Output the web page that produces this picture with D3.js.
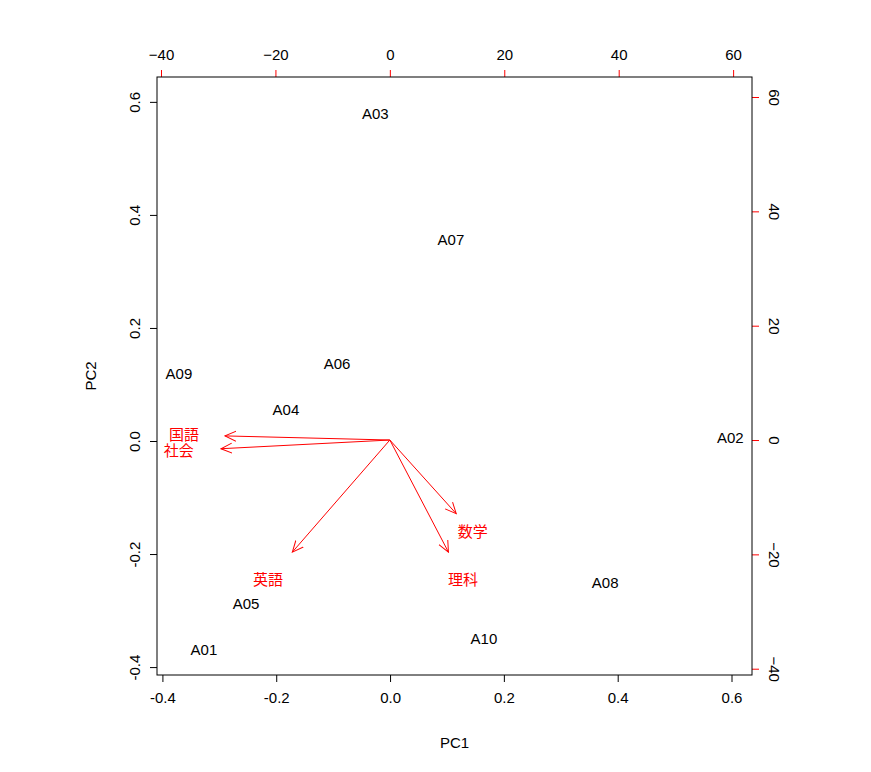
<!DOCTYPE html>
<html><head><meta charset="utf-8">
<script src="https://cdn.jsdelivr.net/npm/d3@7"></script>
<style>body{margin:0;background:#fff}text{font-family:"Liberation Sans","Noto Sans CJK JP",sans-serif}</style>
</head><body><svg width="871" height="772"></svg>
<script>
const svg = d3.select("svg");

// observation scores (PC1, PC2)
const obsNames = ["A01","A02","A03","A04","A05","A06","A07","A08","A09","A10"];
const obsPC1 = [-0.327, 0.598, -0.026, -0.183, -0.253, -0.093, 0.107, 0.378, -0.371, 0.165];
const obsPC2 = [-0.370, 0.005, 0.579, 0.055, -0.288, 0.136, 0.356, -0.250, 0.119, -0.350];

// variable loadings (label positions, top/right scale)
const varNames = ["国語","社会","英語","理科","数学"];
const varPC1 = [-36.0, -36.9, -21.3, 12.8, 14.5];
const varPC2 = [0.9, -1.9, -24.5, -24.5, -16.1];

const bottomTicks = [-0.4, -0.2, 0.0, 0.2, 0.4, 0.6];
const leftTicks = [-0.4, -0.2, 0.0, 0.2, 0.4, 0.6];
const topTicks = [-40, -20, 0, 20, 40, 60];
const rightTicks = [-40, -20, 0, 20, 40, 60];

const L = 157, R = 752, T = 77, B = 675;
const x = d3.scaleLinear().domain([-0.4095, 0.636]).range([L, R]);
const y = d3.scaleLinear().domain([-0.414, 0.644]).range([B, T]);
const x2 = d3.scaleLinear().domain([-40.7, 63.3]).range([L, R]);
const y2 = d3.scaleLinear().domain([-41.1, 63.5]).range([B, T]);

const fmt = d => d.toFixed(1);
function styleAxis(g, col) {
  g.select(".domain").remove();
  g.selectAll("line").attr("stroke", col);
  g.selectAll("text").attr("fill", "#000").style("font-size", "15px");
}
const gb = svg.append("g").attr("transform", `translate(0,${B})`)
  .call(d3.axisBottom(x).tickValues(bottomTicks).tickFormat(fmt).tickSize(7).tickPadding(10));
styleAxis(gb, "#000");

const gl = svg.append("g").attr("transform", `translate(${L},0)`)
  .call(d3.axisLeft(y).tickValues(leftTicks).tickFormat(fmt).tickSize(7));
styleAxis(gl, "#000");
gl.selectAll(".tick text").attr("transform", "rotate(-90)").attr("x", 0).attr("y", -22)
  .attr("dy", "0.35em").attr("text-anchor", "middle");

const gt = svg.append("g").attr("transform", `translate(0,${T})`)
  .call(d3.axisTop(x2).tickValues(topTicks).tickSize(7).tickPadding(10));
styleAxis(gt, "red");

const gr = svg.append("g").attr("transform", `translate(${R},0)`)
  .call(d3.axisRight(y2).tickValues(rightTicks).tickSize(7));
styleAxis(gr, "red");
gr.selectAll(".tick text").attr("transform", "rotate(90)").attr("x", 0).attr("y", -22)
  .attr("dy", "0.35em").attr("text-anchor", "middle");

svg.append("rect").attr("x", L).attr("y", T).attr("width", R - L).attr("height", B - T)
  .attr("fill", "none").attr("stroke", "#000");

svg.append("text").attr("x", (L + R) / 2).attr("y", 748).attr("text-anchor", "middle")
  .style("font-size", "15px").text("PC1");
svg.append("text").attr("transform", `translate(96,${(T + B) / 2}) rotate(-90)`)
  .attr("text-anchor", "middle").style("font-size", "15px").text("PC2");

svg.selectAll(".obs").data(obsNames).enter().append("text")
  .attr("x", (d, i) => x(obsPC1[i])).attr("y", (d, i) => y(obsPC2[i]))
  .attr("dy", "0.35em").attr("text-anchor", "middle").style("font-size", "15px").text(d => d);

svg.append("defs").append("marker").attr("id", "ah").attr("viewBox", "0 0 12 12")
  .attr("refX", 11).attr("refY", 6).attr("markerWidth", 12).attr("markerHeight", 12)
  .attr("markerUnits", "userSpaceOnUse").attr("orient", "auto")
  .append("path").attr("d", "M0,1 L11,6 L0,11").attr("fill", "none").attr("stroke", "red");

varNames.forEach((n, i) => {
  svg.append("line").attr("x1", x2(0)).attr("y1", y2(0))
    .attr("x2", x2(varPC1[i] * 0.8)).attr("y2", y2(varPC2[i] * 0.8))
    .attr("stroke", "red").attr("marker-end", "url(#ah)");
  svg.append("text").attr("x", x2(varPC1[i])).attr("y", y2(varPC2[i])).attr("dy", "0.35em")
    .attr("text-anchor", "middle").attr("fill", "red").style("font-size", "15px").text(n);
});
</script></body></html>
